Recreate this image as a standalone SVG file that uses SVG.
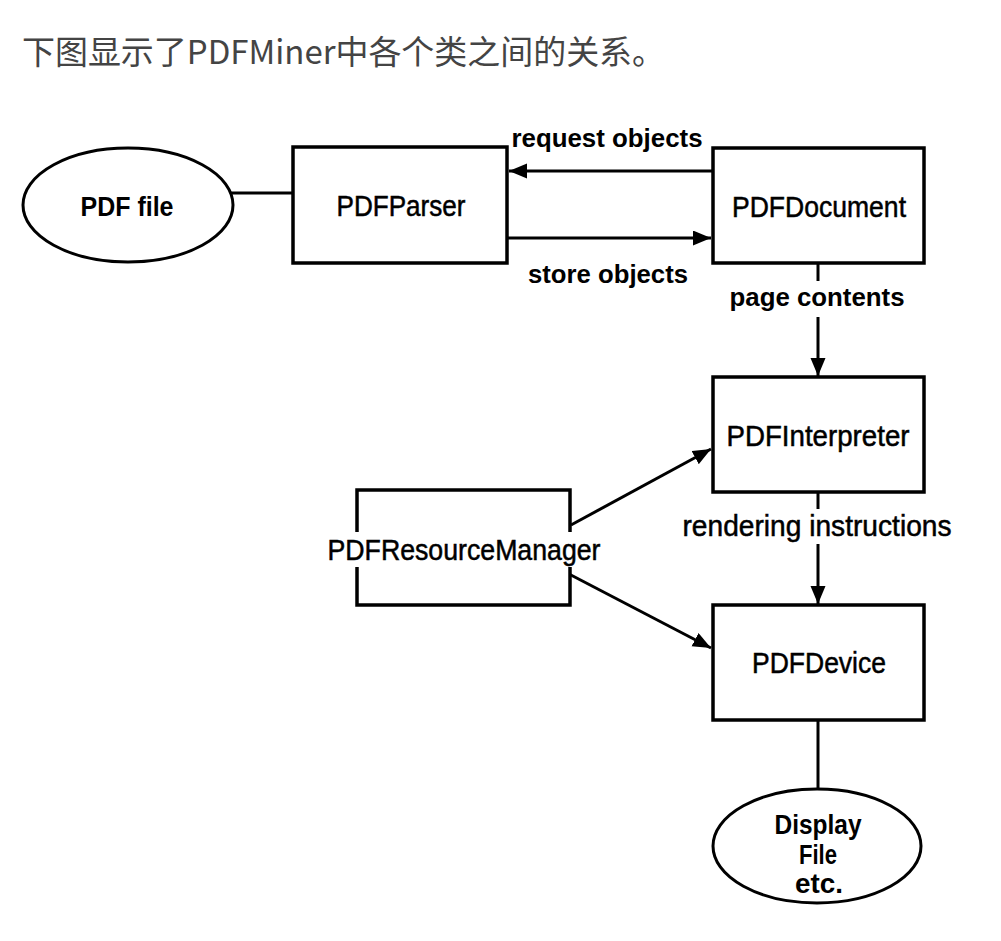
<svg xmlns="http://www.w3.org/2000/svg" width="1001" height="941" viewBox="0 0 1001 941">
<defs>
<marker id="ah" markerUnits="userSpaceOnUse" markerWidth="20" markerHeight="16" refX="18" refY="7.5" orient="auto">
<path d="M0,0 L18,7.5 L0,15 Z" fill="#000"/>
</marker>
<style>
.box{fill:#fff;stroke:#000;stroke-width:3.5}
.ell{fill:#fff;stroke:#000;stroke-width:3}
.ln{fill:none;stroke:#000;stroke-width:3}
.arr{fill:none;stroke:#000;stroke-width:3;marker-end:url(#ah)}
.nl{font-family:"Liberation Sans",Arial,sans-serif;font-size:29px;fill:#000;stroke:#000;stroke-width:0.5;text-anchor:middle}
.bl{font-family:"Liberation Sans",Arial,sans-serif;font-size:27px;font-weight:bold;fill:#000;text-anchor:middle}
.el{font-family:"Liberation Sans",Arial,sans-serif;font-size:26px;font-weight:bold;fill:#000;text-anchor:middle}
.title{font-family:"Noto Sans CJK SC","Noto Sans",sans-serif;font-size:33px;fill:#444}
</style>
</defs>
<rect width="1001" height="941" fill="#fff"/>
<text class="title" x="22" y="64" textLength="643" lengthAdjust="spacingAndGlyphs">下图显示了PDFMiner中各个类之间的关系。</text>

<g id="connectors">
<line class="ln" x1="231" y1="193" x2="293" y2="193"/>
<line class="arr" x1="713" y1="171" x2="509" y2="171"/>
<line class="arr" x1="507" y1="238" x2="711" y2="238"/>
<line class="ln" x1="818" y1="263" x2="818" y2="281"/>
<line class="arr" x1="818" y1="317" x2="818" y2="376"/>
<line class="ln" x1="818" y1="492" x2="818" y2="509"/>
<line class="arr" x1="818" y1="544" x2="818" y2="604"/>
<line class="arr" x1="571" y1="525" x2="711" y2="449"/>
<line class="arr" x1="569" y1="574" x2="711" y2="648"/>
<line class="ln" x1="818" y1="720" x2="818" y2="789"/>
<text class="el" x="607" y="147" textLength="191" lengthAdjust="spacingAndGlyphs">request objects</text>
<text class="el" x="608" y="283" textLength="160" lengthAdjust="spacingAndGlyphs">store objects</text>
<text class="el" x="817" y="306" textLength="175" lengthAdjust="spacingAndGlyphs">page contents</text>
<text class="nl" x="817" y="536" textLength="269" lengthAdjust="spacingAndGlyphs">rendering instructions</text>
</g>

<g id="pdffile">
<ellipse class="ell" cx="128" cy="205" rx="105" ry="57"/>
<text class="bl" x="127" y="216" textLength="93" lengthAdjust="spacingAndGlyphs">PDF file</text>
</g>
<g id="pdfparser">
<rect class="box" x="293" y="147" width="214" height="116"/>
<text class="nl" x="401" y="216" textLength="129" lengthAdjust="spacingAndGlyphs">PDFParser</text>
</g>
<g id="pdfdocument">
<rect class="box" x="713" y="148" width="211" height="115"/>
<text class="nl" x="819" y="217" textLength="174" lengthAdjust="spacingAndGlyphs">PDFDocument</text>
</g>
<g id="pdfinterpreter">
<rect class="box" x="713" y="377" width="211" height="115"/>
<text class="nl" x="818" y="446" textLength="183" lengthAdjust="spacingAndGlyphs">PDFInterpreter</text>
</g>
<g id="pdfresourcemanager">
<rect class="box" x="357" y="490" width="213" height="115"/>
<rect x="326" y="532" width="277" height="35" fill="#fff"/>
<text class="nl" x="464" y="560" textLength="273" lengthAdjust="spacingAndGlyphs">PDFResourceManager</text>
</g>
<g id="pdfdevice">
<rect class="box" x="713" y="605" width="211" height="115"/>
<text class="nl" x="819" y="673" textLength="134" lengthAdjust="spacingAndGlyphs">PDFDevice</text>
</g>
<g id="display">
<ellipse class="ell" cx="817" cy="846" rx="104" ry="57"/>
<text class="bl" x="818" y="834" textLength="87" lengthAdjust="spacingAndGlyphs">Display</text>
<text class="bl" x="818" y="864" textLength="38" lengthAdjust="spacingAndGlyphs">File</text>
<text class="bl" x="819" y="893" textLength="48" lengthAdjust="spacingAndGlyphs">etc.</text>
</g>
</svg>
